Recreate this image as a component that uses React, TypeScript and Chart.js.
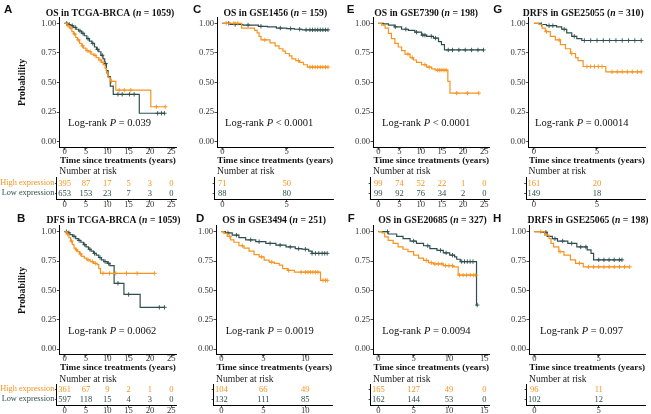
import React, { useEffect, useRef } from 'react';
import { Chart, registerables } from 'chart.js';

Chart.register(...registerables);

const HIGH_COLOR = '#F7931E';
const LOW_COLOR = '#2F4F4F';
const SERIF = "'Liberation Serif', 'Times New Roman', Times, serif";
const SANS = "'Liberation Sans', Arial, Helvetica, sans-serif";
const INK = '#111111';
const TICK_INK = '#333333';

// ---------------- data ----------------
const rowLabels = ['High expression', 'Low expression'];
const yTicks = [0, 0.25, 0.5, 0.75, 1];

// A: OS in TCGA-BRCA
const aHighT = [0, 0.6, 1.2, 1.7, 2.1, 2.6, 3.0, 3.5, 4.0, 4.4, 5.0, 5.6, 6.2, 6.8, 7.4, 8.0, 8.6, 9.1, 9.5, 9.8, 10.2, 10.8, 12.0, 20.2, 23.6];
const aHighS = [1, 0.98, 0.96, 0.93, 0.91, 0.88, 0.86, 0.83, 0.81, 0.79, 0.77, 0.76, 0.74, 0.73, 0.71, 0.69, 0.67, 0.65, 0.62, 0.58, 0.54, 0.51, 0.435, 0.295, 0.295];
const aHighC = [0.8, 1.5, 2.3, 3.2, 4.2, 5.3, 6.0, 7.1, 8.3, 9.0, 11.0, 12.8, 14.0, 15.5, 21.5, 23.6];
const aLowT = [0, 0.7, 1.4, 2.0, 2.7, 3.3, 4.0, 4.6, 5.2, 5.8, 6.4, 7.0, 7.5, 8.0, 8.5, 9.0, 9.4, 9.8, 10.2, 10.7, 11.4, 17.5, 23.4];
const aLowS = [1, 0.99, 0.98, 0.965, 0.95, 0.935, 0.915, 0.895, 0.87, 0.85, 0.83, 0.8, 0.78, 0.76, 0.73, 0.7, 0.66, 0.6, 0.55, 0.47, 0.4, 0.24, 0.24];
const aLowC = [0.5, 1.1, 1.8, 2.5, 3.6, 4.3, 5.5, 6.6, 7.7, 8.8, 9.6, 12.5, 13.5, 15.2, 16.3, 21.8, 22.7, 23.4];
const aRiskT = [0, 5, 10, 15, 20, 25];
const aRiskHigh = [395, 87, 17, 5, 3, 0];
const aRiskLow = [653, 153, 23, 7, 3, 0];

// B: DFS in TCGA-BRCA
const bHighT = [0, 0.5, 1.0, 1.4, 1.8, 2.2, 2.6, 3.0, 3.5, 4.0, 4.6, 5.2, 6.0, 6.8, 7.6, 8.0, 8.4, 21.1];
const bHighS = [1, 0.98, 0.95, 0.92, 0.89, 0.86, 0.845, 0.83, 0.81, 0.79, 0.775, 0.76, 0.745, 0.73, 0.72, 0.685, 0.645, 0.645];
const bHighC = [0.7, 1.6, 2.8, 3.7, 5.5, 6.5, 7.2, 9.0, 10.5, 12.0, 14.5, 17.0, 21.1];
const bLowT = [0, 0.6, 1.2, 1.9, 2.6, 3.2, 3.8, 4.4, 5.0, 5.6, 6.2, 6.8, 7.4, 8.0, 8.6, 9.2, 10.0, 10.6, 11.6, 13.9, 17.7, 23.4];
const bLowS = [1, 0.99, 0.975, 0.96, 0.94, 0.925, 0.91, 0.89, 0.87, 0.85, 0.835, 0.815, 0.8, 0.78, 0.76, 0.745, 0.73, 0.71, 0.56, 0.465, 0.355, 0.355];
const bLowC = [0.4, 1.0, 2.2, 3.4, 4.7, 5.9, 7.0, 8.3, 9.5, 10.3, 12.5, 15.0, 22.2, 23.4];
const bRiskT = [0, 5, 10, 15, 20, 25];
const bRiskHigh = [361, 67, 9, 2, 1, 0];
const bRiskLow = [597, 118, 15, 4, 3, 0];

// C: OS in GSE1456
const cHighT = [0, 1.5, 2.5, 2.7, 2.85, 3.0, 3.7, 4.1, 4.4, 4.7, 4.9, 5.2, 5.4, 5.7, 6.0, 6.3, 6.6, 8.2];
const cHighS = [1, 0.96, 0.94, 0.92, 0.89, 0.86, 0.835, 0.81, 0.785, 0.765, 0.745, 0.725, 0.7, 0.685, 0.67, 0.65, 0.63, 0.63];
const cHighC = [0.3, 0.9, 1.2, 3.3, 5.9, 6.8, 7.0, 7.2, 7.4, 7.6, 7.8, 8.0, 8.2];
const cLowT = [0, 0.6, 1.6, 2.8, 3.5, 4.2, 5.0, 5.6, 6.2, 8.2];
const cLowS = [1, 0.99, 0.985, 0.975, 0.97, 0.96, 0.955, 0.95, 0.945, 0.945];
const cLowC = [0.5, 1.0, 2.0, 3.0, 4.5, 5.3, 6.0, 6.5, 6.8, 7.0, 7.2, 7.4, 7.6, 7.8, 8.0, 8.2];
const cRiskT = [0, 5];
const cRiskHigh = [71, 50];
const cRiskLow = [88, 80];

// D: OS in GSE3494
const dHighT = [0, 0.3, 0.7, 1.1, 1.5, 2.1, 2.7, 3.3, 3.9, 4.5, 5.1, 5.7, 6.3, 6.9, 7.3, 7.9, 8.7, 11.8, 12.6];
const dHighS = [1, 0.985, 0.96, 0.93, 0.91, 0.88, 0.86, 0.835, 0.805, 0.785, 0.757, 0.74, 0.73, 0.715, 0.685, 0.67, 0.655, 0.585, 0.585];
const dHighC = [1.0, 2.5, 4.8, 6.0, 8.0, 9.5, 10.0, 10.3, 10.6, 10.9, 11.2, 11.5, 12.1, 12.4, 12.6];
const dLowT = [0, 0.5, 1.3, 2.1, 2.9, 4.1, 5.3, 6.5, 7.7, 8.8, 9.6, 10.4, 10.8, 12.6];
const dLowS = [1, 0.99, 0.97, 0.95, 0.93, 0.915, 0.9, 0.885, 0.87, 0.855, 0.85, 0.835, 0.815, 0.815];
const dLowC = [0.8, 1.8, 3.5, 4.5, 5.8, 7.0, 8.2, 9.2, 10.0, 10.8, 11.2, 11.6, 12.0, 12.3, 12.6];
const dRiskT = [0, 5, 10];
const dRiskHigh = [104, 66, 49];
const dRiskLow = [132, 111, 85];

// E: OS in GSE7390
const eHighT = [0, 0.8, 1.6, 2.4, 3.1, 3.9, 4.7, 5.5, 6.3, 7.5, 8.3, 9.0, 10.2, 11.4, 12.6, 13.4, 16.4, 16.9, 23.7];
const eHighS = [1, 0.985, 0.96, 0.915, 0.87, 0.83, 0.8, 0.77, 0.74, 0.71, 0.69, 0.67, 0.65, 0.63, 0.615, 0.605, 0.51, 0.41, 0.41];
const eHighC = [7.0, 8.0, 11.0, 12.0, 14.0, 14.5, 15.0, 15.5, 16.0, 18.5, 21.0, 23.7];
const eLowT = [0, 1.2, 2.4, 3.9, 5.5, 7.1, 8.6, 10.2, 11.4, 13.0, 14.2, 14.9, 15.6, 24.8];
const eLowS = [1, 0.995, 0.985, 0.97, 0.95, 0.94, 0.925, 0.9, 0.89, 0.875, 0.845, 0.82, 0.775, 0.775];
const eLowC = [4.0, 6.5, 9.0, 10.5, 11.0, 12.5, 13.5, 16.5, 17.5, 19.0, 20.5, 22.0, 23.5, 24.8];
const eRiskT = [0, 5, 10, 15, 20, 25];
const eRiskHigh = [99, 74, 52, 22, 1, 0];
const eRiskLow = [99, 92, 76, 34, 2, 0];

// F: OS in GSE20685
const fHighT = [0, 0.5, 0.9, 1.4, 2.1, 2.8, 3.5, 4.2, 5.0, 5.7, 6.4, 7.1, 7.8, 9.2, 10.6, 11.3, 13.8];
const fHighS = [1, 0.99, 0.955, 0.925, 0.9, 0.87, 0.85, 0.83, 0.8, 0.775, 0.755, 0.735, 0.725, 0.71, 0.7, 0.63, 0.63];
const fHighC = [6.8, 7.5, 8.0, 8.5, 9.0, 9.5, 10.0, 10.5, 11.5, 12.0, 12.5, 13.0, 13.5, 13.8];
const fLowT = [0, 1.4, 2.6, 3.5, 4.5, 5.4, 6.4, 7.3, 8.3, 9.2, 10.1, 10.8, 11.1, 11.6, 13.9, 14.0];
const fLowS = [1, 0.98, 0.96, 0.94, 0.92, 0.9, 0.88, 0.855, 0.84, 0.82, 0.8, 0.785, 0.765, 0.745, 0.375, 0.375];
const fLowC = [1.3, 5.0, 7.0, 8.8, 9.6, 10.5, 11.8, 12.2, 12.6, 13.0, 13.4, 14.0];
const fRiskT = [0, 5, 10, 15];
const fRiskHigh = [165, 127, 49, 0];
const fRiskLow = [162, 144, 53, 0];

// G: DRFS in GSE25055
const gHighT = [0, 0.4, 0.65, 0.9, 1.3, 1.7, 2.1, 2.5, 2.9, 3.3, 3.5, 3.9, 5.7, 8.5];
const gHighS = [1, 0.99, 0.96, 0.93, 0.89, 0.86, 0.82, 0.785, 0.745, 0.71, 0.685, 0.635, 0.59, 0.59];
const gHighC = [1.0, 2.0, 3.0, 4.2, 4.5, 4.8, 5.1, 5.4, 6.2, 6.6, 7.0, 7.4, 7.8, 8.2, 8.5];
const gLowT = [0, 0.5, 1.0, 1.8, 2.2, 2.6, 3.0, 3.4, 3.8, 8.5];
const gLowS = [1, 0.99, 0.98, 0.97, 0.95, 0.92, 0.89, 0.87, 0.855, 0.855];
const gLowC = [0.6, 1.2, 1.5, 2.4, 3.2, 4.0, 4.5, 5.0, 5.5, 6.0, 6.5, 7.0, 7.5, 8.0, 8.5];
const gRiskT = [0, 5];
const gRiskHigh = [161, 20];
const gRiskLow = [149, 18];

// H: DRFS in GSE25065
const hHighT = [0, 0.8, 1.15, 1.3, 1.5, 1.9, 2.3, 2.8, 3.2, 3.8, 7.4];
const hHighS = [1, 0.97, 0.94, 0.9, 0.87, 0.83, 0.8, 0.76, 0.73, 0.7, 0.7];
const hHighC = [0.5, 2.0, 3.5, 4.2, 4.6, 5.0, 5.4, 5.8, 6.2, 6.6, 7.0, 7.4];
const hLowT = [0, 0.5, 1.0, 1.4, 1.8, 2.6, 3.3, 4.1, 4.4, 4.6, 6.8];
const hLowS = [1, 0.995, 0.96, 0.94, 0.92, 0.9, 0.87, 0.845, 0.815, 0.76, 0.76];
const hLowC = [0.9, 1.6, 2.2, 2.9, 3.6, 4.0, 5.0, 5.4, 5.8, 6.2, 6.6, 6.8];
const hRiskT = [0, 5];
const hRiskHigh = [96, 11];
const hRiskLow = [102, 12];

// ---------------- panel definitions ----------------
type PanelData = {
  key: string; name: string; n: string; pText: string;
  hiT: number[]; hiS: number[]; hiC: number[];
  loT: number[]; loS: number[]; loC: number[];
  riskT: number[]; riskHi: number[]; riskLo: number[];
};

const PANELS: PanelData[] = [
  { key: 'A', name: 'OS in TCGA-BRCA', n: '1059', pText: '= 0.039', hiT: aHighT, hiS: aHighS, hiC: aHighC, loT: aLowT, loS: aLowS, loC: aLowC, riskT: aRiskT, riskHi: aRiskHigh, riskLo: aRiskLow },
  { key: 'B', name: 'DFS in TCGA-BRCA', n: '1059', pText: '= 0.0062', hiT: bHighT, hiS: bHighS, hiC: bHighC, loT: bLowT, loS: bLowS, loC: bLowC, riskT: bRiskT, riskHi: bRiskHigh, riskLo: bRiskLow },
  { key: 'C', name: 'OS in GSE1456', n: '159', pText: '< 0.0001', hiT: cHighT, hiS: cHighS, hiC: cHighC, loT: cLowT, loS: cLowS, loC: cLowC, riskT: cRiskT, riskHi: cRiskHigh, riskLo: cRiskLow },
  { key: 'D', name: 'OS in GSE3494', n: '251', pText: '= 0.0019', hiT: dHighT, hiS: dHighS, hiC: dHighC, loT: dLowT, loS: dLowS, loC: dLowC, riskT: dRiskT, riskHi: dRiskHigh, riskLo: dRiskLow },
  { key: 'E', name: 'OS in GSE7390', n: '198', pText: '< 0.0001', hiT: eHighT, hiS: eHighS, hiC: eHighC, loT: eLowT, loS: eLowS, loC: eLowC, riskT: eRiskT, riskHi: eRiskHigh, riskLo: eRiskLow },
  { key: 'F', name: 'OS in GSE20685', n: '327', pText: '= 0.0094', hiT: fHighT, hiS: fHighS, hiC: fHighC, loT: fLowT, loS: fLowS, loC: fLowC, riskT: fRiskT, riskHi: fRiskHigh, riskLo: fRiskLow },
  { key: 'G', name: 'DRFS in GSE25055', n: '310', pText: '= 0.00014', hiT: gHighT, hiS: gHighS, hiC: gHighC, loT: gLowT, loS: gLowS, loC: gLowC, riskT: gRiskT, riskHi: gRiskHigh, riskLo: gRiskLow },
  { key: 'H', name: 'DRFS in GSE25065', n: '198', pText: '= 0.097', hiT: hHighT, hiS: hHighS, hiC: hHighC, loT: hLowT, loS: hLowS, loC: hLowC, riskT: hRiskT, riskHi: hRiskHigh, riskLo: hRiskLow },
];

// layout (positions / sizes only)
type Row = {
  top: number; plotTop: number; plotBottom: number; kmBottom: number;
  titleBase: number; letterBase: number; xTitleBase: number; pY: number;
  nrY: number; hiY: number; loY: number; tblBottom: number; tblCanvasBottom: number;
};
const ROWS: Row[] = [
  { top: 0, plotTop: 17.4, plotBottom: 147.6, kmBottom: 168, titleBase: 15.8, letterBase: 12.6, xTitleBase: 163.3, pY: 123.5, nrY: 171.7, hiY: 183, loY: 193.3, tblBottom: 199.5, tblCanvasBottom: 212 },
  { top: 205, plotTop: 225.8, plotBottom: 354.9, kmBottom: 376, titleBase: 223.3, letterBase: 222, xTitleBase: 370.3, pY: 331.5, nrY: 379, hiY: 389.3, loY: 399.3, tblBottom: 405.3, tblCanvasBottom: 414 },
];
type Lay = { row: number; axisX: number; right: number; xMax: number; titleX: number; letterX: number; pX: number; labels: boolean };
const LAYOUT: Record<string, Lay> = {
  A: { row: 0, axisX: 59.3, right: 176.6, xMax: 25, titleX: 110, letterX: 4, pX: 68, labels: true },
  B: { row: 1, axisX: 59.3, right: 176.6, xMax: 25, titleX: 113.5, letterX: 17, pX: 68, labels: true },
  C: { row: 0, axisX: 217, right: 333.3, xMax: 8.2, titleX: 275.3, letterX: 193, pX: 225, labels: false },
  D: { row: 1, axisX: 216, right: 332.5, xMax: 12.6, titleX: 274.2, letterX: 196, pX: 225.7, labels: false },
  E: { row: 0, axisX: 373, right: 489.6, xMax: 25, titleX: 426.2, letterX: 346.7, pX: 382, labels: false },
  F: { row: 1, axisX: 373, right: 489.6, xMax: 15, titleX: 432.5, letterX: 347.7, pX: 382.3, labels: false },
  G: { row: 0, axisX: 528.6, right: 645.2, xMax: 8.4, titleX: 583.2, letterX: 493.3, pX: 535, labels: false },
  H: { row: 1, axisX: 529, right: 645.3, xMax: 8.2, titleX: 588, letterX: 493, pX: 540, labels: false },
};
const TABLE_SHIFT = 2.4; // risk table axis sits slightly left of the plot axis

const F_TICK = 8.6;
const F_TITLE = 9.7;
const F_AXTITLE = 9.2;
const F_YTITLE = 9.8;
const F_P = 10.5;
const F_RISK = 8.5;
const F_ROWLAB = 8.3;
const F_NAR = 9.6;

function survAt(T: number[], S: number[], t: number) {
  let v = S[0];
  for (let i = 0; i < T.length; i++) if (T[i] <= t) v = S[i];
  return v;
}

type Seg = { t: string; f: string };
function drawRich(ctx: CanvasRenderingContext2D, segs: Seg[], x: number, y: number, center: boolean) {
  let w = 0;
  for (const s of segs) { ctx.font = s.f; w += ctx.measureText(s.t).width; }
  let cx = center ? x - w / 2 : x;
  ctx.textAlign = 'left';
  for (const s of segs) { ctx.font = s.f; ctx.fillText(s.t, cx, y); cx += ctx.measureText(s.t).width; }
}

function geom(p: PanelData) {
  const L = LAYOUT[p.key];
  const R = ROWS[L.row];
  const kmLeft = Math.floor(L.axisX - 59);
  const kmTop = R.top;
  const kmW = Math.ceil(L.right + 8 - kmLeft);
  const kmH = R.kmBottom - R.top;
  const tLeft = kmLeft;
  const tTop = Math.floor(R.nrY - 7);
  const tW = kmW;
  const tH = R.tblCanvasBottom - tTop;
  return { L, R, kmLeft, kmTop, kmW, kmH, tLeft, tTop, tW, tH };
}

function xScale(L: Lay, tickVals: number[], height: number, pad: number, minVal: number) {
  return {
    type: 'linear' as const,
    min: minVal,
    max: 1.05 * L.xMax,
    afterBuildTicks: (s: any) => { s.ticks = tickVals.map((v) => ({ value: v })); },
    afterFit: (s: any) => { s.height = height; },
    ticks: {
      callback: (v: any) => String(v),
      font: { family: SERIF, size: F_TICK },
      color: TICK_INK,
      padding: pad,
      maxRotation: 0,
      autoSkip: false,
    },
    grid: { display: true, drawOnChartArea: false, drawTicks: true, tickLength: 2.5, color: '#222', lineWidth: 0.8 },
    border: { display: true, color: '#000', width: 1 },
  };
}

function makeKM(canvas: HTMLCanvasElement, p: PanelData) {
  const g = geom(p);
  const { L, R } = g;
  const HX = 13;
  const padTop = R.plotTop - g.kmTop;
  const padBottom = g.kmH - (R.plotBottom - g.kmTop) - HX;
  const padRight = g.kmW - (L.right - g.kmLeft);
  const pts = (T: number[], S: number[]) => T.map((t, i) => ({ x: t, y: S[i] }));
  const cens = (C: number[], T: number[], S: number[]) => C.map((t) => ({ x: t, y: survAt(T, S, t) }));

  const textPlugin = {
    id: 'kmText' + p.key,
    afterDraw(chart: any) {
      const ctx: CanvasRenderingContext2D = chart.ctx;
      const ox = g.kmLeft, oy = g.kmTop;
      const ca = chart.chartArea;
      ctx.save();
      ctx.fillStyle = INK;
      ctx.textBaseline = 'alphabetic';
      ctx.font = `bold 11.5px ${SANS}`;
      ctx.textAlign = 'left';
      ctx.fillText(p.key, L.letterX - ox, R.letterBase - oy);
      drawRich(ctx, [
        { t: p.name + ' (', f: `bold ${F_TITLE}px ${SERIF}` },
        { t: 'n', f: `italic bold ${F_TITLE}px ${SERIF}` },
        { t: ' = ' + p.n + ')', f: `bold ${F_TITLE}px ${SERIF}` },
      ], L.titleX - ox, R.titleBase - oy, true);
      drawRich(ctx, [{ t: 'Time since treatments (years)', f: `bold ${F_AXTITLE}px ${SERIF}` }],
        (ca.left + ca.right) / 2, R.xTitleBase - oy, true);
      ctx.textBaseline = 'middle';
      drawRich(ctx, [
        { t: 'Log-rank ', f: `${F_P}px ${SERIF}` },
        { t: 'P', f: `italic ${F_P}px ${SERIF}` },
        { t: ' ' + p.pText, f: `${F_P}px ${SERIF}` },
      ], L.pX - ox, R.pY - oy, false);
      if (L.labels) {
        ctx.save();
        ctx.translate(22 - ox, (ca.top + ca.bottom) / 2);
        ctx.rotate(-Math.PI / 2);
        ctx.textAlign = 'center';
        ctx.textBaseline = 'middle';
        ctx.font = `bold ${F_YTITLE}px ${SERIF}`;
        ctx.fillText('Probability', 0, 0);
        ctx.restore();
      }
      ctx.restore();
    },
  };

  return new Chart(canvas, {
    type: 'line',
    data: {
      datasets: [
        { type: 'line', data: pts(p.loT, p.loS), borderColor: LOW_COLOR, borderWidth: 1.2, stepped: true, pointRadius: 0, fill: false, order: 4 },
        { type: 'scatter', data: cens(p.loC, p.loT, p.loS), pointStyle: 'cross', pointRadius: 2.2, borderColor: LOW_COLOR, borderWidth: 0.9, showLine: false, order: 3 },
        { type: 'line', data: pts(p.hiT, p.hiS), borderColor: HIGH_COLOR, borderWidth: 1.2, stepped: true, pointRadius: 0, fill: false, order: 2 },
        { type: 'scatter', data: cens(p.hiC, p.hiT, p.hiS), pointStyle: 'cross', pointRadius: 2.2, borderColor: HIGH_COLOR, borderWidth: 0.9, showLine: false, order: 1 },
      ] as any,
    },
    options: {
      animation: false,
      responsive: false,
      events: [],
      devicePixelRatio: 1,
      layout: { padding: { left: 0, top: padTop, right: padRight, bottom: padBottom } },
      plugins: { legend: { display: false }, tooltip: { enabled: false }, title: { display: false } },
      scales: {
        x: xScale(L, p.riskT, HX, -4, -0.05 * L.xMax) as any,
        y: {
          type: 'linear',
          min: -0.05,
          max: 1.05,
          afterBuildTicks: (s: any) => { s.ticks = yTicks.map((v) => ({ value: v })); },
          afterFit: (s: any) => { s.width = L.axisX - g.kmLeft; },
          ticks: {
            callback: (v: any) => Number(v).toFixed(2),
            font: { family: SERIF, size: F_TICK },
            color: TICK_INK,
            padding: 0.5,
            autoSkip: false,
          },
          grid: { display: true, drawOnChartArea: false, drawTicks: true, tickLength: 2.5, color: '#222', lineWidth: 0.8 },
          border: { display: true, color: '#000', width: 1 },
        } as any,
      },
    },
    plugins: [textPlugin],
  });
}

function makeTable(canvas: HTMLCanvasElement, p: PanelData) {
  const g = geom(p);
  const { L, R } = g;
  const u = R.loY - R.hiY;
  const areaTop = R.hiY - 0.5 * u;
  const padTop = areaTop - g.tTop;
  const HX = g.tH - (R.tblBottom - g.tTop);
  const padRight = g.tW - (L.right - g.tLeft);
  const ppu = (L.right - L.axisX) / (1.1 * L.xMax);
  const tableMin = -0.05 * L.xMax - TABLE_SHIFT / ppu;

  const riskPlugin = {
    id: 'risk' + p.key,
    afterDatasetsDraw(chart: any) {
      const ctx: CanvasRenderingContext2D = chart.ctx;
      ctx.save();
      ctx.textBaseline = 'middle';
      ctx.textAlign = 'left';
      ctx.fillStyle = '#222';
      ctx.font = `${F_NAR}px ${SERIF}`;
      ctx.fillText('Number at risk', chart.chartArea.left + TABLE_SHIFT, R.nrY - g.tTop);
      ctx.textAlign = 'center';
      ctx.font = `${F_RISK}px ${SERIF}`;
      chart.data.datasets.forEach((ds: any, di: number) => {
        const meta = chart.getDatasetMeta(di);
        ctx.fillStyle = ds.borderColor;
        meta.data.forEach((el: any, i: number) => {
          ctx.fillText(String(ds.counts[i]), el.x, el.y + 0.5);
        });
      });
      ctx.restore();
    },
  };

  return new Chart(canvas, {
    type: 'scatter',
    data: {
      datasets: [
        { data: p.riskT.map((t) => ({ x: t, y: 2 })), counts: p.riskHi, borderColor: HIGH_COLOR, backgroundColor: HIGH_COLOR, pointRadius: 0 },
        { data: p.riskT.map((t) => ({ x: t, y: 1 })), counts: p.riskLo, borderColor: LOW_COLOR, backgroundColor: LOW_COLOR, pointRadius: 0 },
      ] as any,
    },
    options: {
      animation: false,
      responsive: false,
      events: [],
      devicePixelRatio: 1,
      layout: { padding: { left: 0, top: padTop, right: padRight, bottom: 0 } },
      plugins: { legend: { display: false }, tooltip: { enabled: false }, title: { display: false } },
      scales: {
        x: xScale(L, p.riskT, HX, -2.5, tableMin) as any,
        y: {
          type: 'linear',
          min: 0.4,
          max: 2.5,
          afterBuildTicks: (s: any) => { s.ticks = [1, 2].map((v) => ({ value: v })); },
          afterFit: (s: any) => { s.width = L.axisX - TABLE_SHIFT - g.tLeft; },
          ticks: {
            callback: (v: any) => (L.labels ? (v === 2 ? rowLabels[0] : rowLabels[1]) : ''),
            color: (c: any) => (c.tick && c.tick.value === 2 ? HIGH_COLOR : LOW_COLOR),
            font: { family: SERIF, size: F_ROWLAB },
            padding: 0.5,
            autoSkip: false,
          },
          grid: { display: true, drawOnChartArea: false, drawTicks: true, tickLength: 2, color: '#222', lineWidth: 0.8 },
          border: { display: true, color: '#000', width: 1 },
        } as any,
      },
    },
    plugins: [riskPlugin],
  });
}

function Panel({ p }: { p: PanelData }) {
  const kmRef = useRef<HTMLCanvasElement>(null);
  const tRef = useRef<HTMLCanvasElement>(null);
  const g = geom(p);
  useEffect(() => {
    const c1 = makeKM(kmRef.current as HTMLCanvasElement, p);
    const c2 = makeTable(tRef.current as HTMLCanvasElement, p);
    return () => { c1.destroy(); c2.destroy(); };
  }, [p]);
  return (
    <>
      <canvas ref={kmRef} width={g.kmW} height={g.kmH}
        style={{ position: 'absolute', left: g.kmLeft, top: g.kmTop, width: g.kmW, height: g.kmH }} />
      <canvas ref={tRef} width={g.tW} height={g.tH}
        style={{ position: 'absolute', left: g.tLeft, top: g.tTop, width: g.tW, height: g.tH }} />
    </>
  );
}

export default function App() {
  return (
    <div style={{ position: 'fixed', left: 0, top: 0, width: 651, height: 414, background: '#ffffff', overflow: 'hidden' }}>
      {PANELS.map((p) => <Panel key={p.key} p={p} />)}
    </div>
  );
}
